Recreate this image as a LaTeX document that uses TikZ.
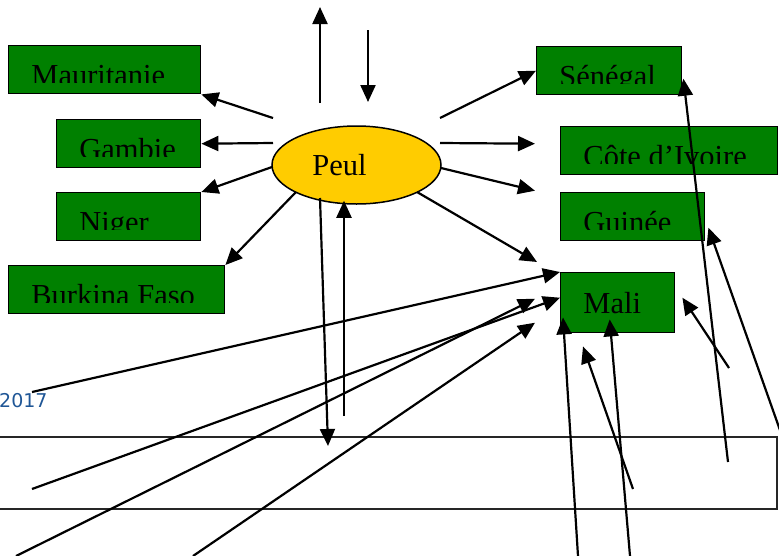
\documentclass[tikz,border=0pt]{standalone}
\usepackage{fontspec}
\setmainfont{Liberation Serif}
\newfontfamily\yearfont{DejaVu Sans}
\usetikzlibrary{arrows.meta,shapes.geometric}

\definecolor{boxgreen}{RGB}{0,128,0}
\definecolor{peulyellow}{RGB}{255,204,0}
\definecolor{yearblue}{RGB}{31,86,150}
\newcommand{\countryfont}{\fontsize{30.5}{36}\selectfont}

\tikzset{
  % green country box; text is left aligned and cut off at a fixed height
  % #1 = name, #2 = height of the cut above the bottom, #3 = baseline above the bottom
  country/.style n args={3}{rectangle, draw=black, line width=1.4pt, fill=boxgreen,
    inner sep=0pt, anchor=north west,
    path picture={
      \clip ([yshift=#2pt]path picture bounding box.south west)
            rectangle (path picture bounding box.north east);
      \node[anchor=base west, inner sep=0pt, minimum width=0pt, minimum height=0pt,
            draw=none, fill=none, font=\countryfont, text=black]
        at ([xshift=22pt,yshift=#3pt]path picture bounding box.south west) {#1};}},
  people/.style={ellipse, draw=black, line width=1.5pt, fill=peulyellow, inner sep=0pt,
    minimum width=169pt, minimum height=78pt},
  link/.style={draw=black, line width=2.2pt, -{Triangle[length=17pt,width=15pt]}},
  frame/.style={draw=black!85, line width=1.3pt},
}

\begin{document}
\begin{tikzpicture}[x=1pt,y=-1pt]
\useasboundingbox (0,0) rectangle (779,555);

% background frame and year
\draw[frame] (-3,437) rectangle (777,509);
\node[anchor=base west, inner sep=0pt, text=yearblue, font=\yearfont\fontsize{19}{22}\selectfont]
  (year) at (-1,407) {2017};

% central people
\node[people, label={[xshift=-17pt,font=\countryfont]center:Peul}] (peul) at (356.5,165) {};

% countries, west side
\node[country={Mauritanie}{11}{8.5}, minimum width=192pt, minimum height=48pt] (maur) at (8,45) {};
\node[country={Gambie}{11}{8.5}, minimum width=144pt, minimum height=48pt] (gam) at (56,119) {};
\node[country={Niger}{11}{8.5}, minimum width=144pt, minimum height=48pt] (nig) at (56,192) {};
\node[country={Burkina Faso}{11}{8.5}, minimum width=216pt, minimum height=48pt] (burk) at (8,265) {};

% countries, east side
\node[country={Sénégal}{11}{8.5}, minimum width=145pt, minimum height=48pt] (sen) at (536,46) {};
\node[country={Côte d’Ivoire}{11}{8.5}, minimum width=217pt, minimum height=48pt] (cote) at (560,126) {};
\node[country={Guinée}{11}{8.5}, minimum width=144pt, minimum height=48pt] (guin) at (560,192) {};
\node[country={Mali}{0}{19}, minimum width=114pt, minimum height=60pt] (mali) at (560,272) {};

% free ends of the connectors
\coordinate (up0) at (320,103);   \coordinate (up1) at (320,7);
\coordinate (dn0) at (368,30);    \coordinate (dn1) at (368,102);
\coordinate (w1) at (273,118);    \coordinate (w2) at (273,143);
\coordinate (w3) at (272,167);    \coordinate (w4) at (296,192);
\coordinate (e1) at (440,118);    \coordinate (e2) at (440,143);
\coordinate (e3) at (441,168);    \coordinate (e4) at (417,192);
\coordinate (sd0) at (320,198);   \coordinate (sd1) at (328,446);
\coordinate (su0) at (344,416);
\coordinate (l1) at (32,392);     \coordinate (l2) at (32,489);
\coordinate (l3) at (16,556);     \coordinate (l4) at (193,556);
\coordinate (b1) at (578,556);    \coordinate (b2) at (630,556);
\coordinate (b3) at (633,489);
\coordinate (r1) at (729,368);    \coordinate (r2) at (728,462);
\coordinate (r3) at (781,433);

% arrows above the ellipse
\draw[link] (up0) -- (up1);
\draw[link] (dn0) -- (dn1);

% arrows to the west
\draw[link] (w1) -- (maur.south east);
\draw[link] (w2) -- (gam.east);
\draw[link] (w3) -- (nig.north east);
\draw[link] (w4) -- (burk.north east);

% arrows to the east
\draw[link] (e1) -- (sen.west);
\draw[link] (e2) -- ([xshift=-25pt,yshift=7pt]cote.west);
\draw[link] (e3) -- ([xshift=-25pt,yshift=26pt]guin.west);
\draw[link] (e4) -- ([xshift=-23pt,yshift=10pt]mali.north west);

% arrows below the ellipse
\draw[link] (sd0) -- (sd1);
\draw[link] (su0) -- ([xshift=-12.5pt,yshift=4pt]peul.south);

% arrows towards Mali from the lower left
\draw[link] (l1) -- (mali.north west);
\draw[link] (l2) -- ([yshift=5pt]mali.west);
\draw[link] (l3) -- ([xshift=-25pt,yshift=4pt]mali.west);
\draw[link] (l4) -- ([xshift=-25pt,yshift=-20pt]mali.west);

% arrows towards Mali from below
\draw[link] (b1) -- ([xshift=3pt,yshift=16pt]mali.south west);
\draw[link] (b2) -- ([xshift=-8pt,yshift=14pt]mali.south);
\draw[link] (b3) -- ([xshift=23pt,yshift=-13pt]mali.south west);

% arrows from the right
\draw[link] (r1) -- ([xshift=7pt,yshift=5pt]mali.east);
\draw[link] (r2) -- ([xshift=1pt,yshift=-8pt]sen.east);
\draw[link] (r3) -- ([xshift=3pt,yshift=-11pt]guin.east);
\end{tikzpicture}
\end{document}
